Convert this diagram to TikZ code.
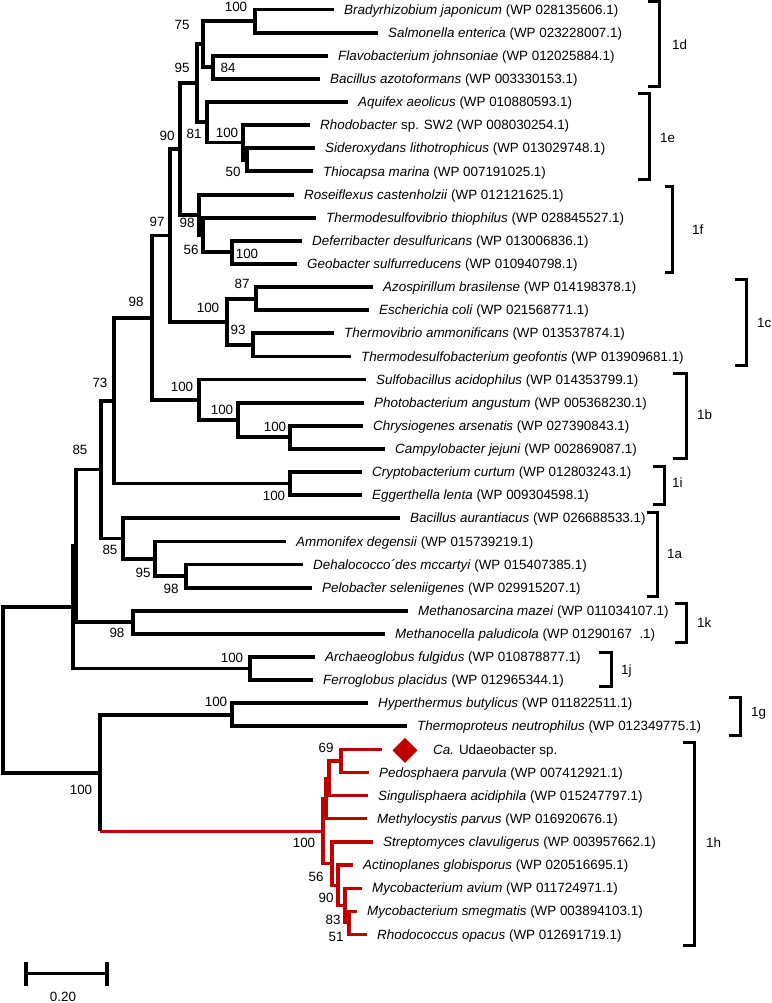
\documentclass[tikz,border=0pt]{standalone}
\usepackage{fontspec}
\setmainfont{Liberation Sans}
\usetikzlibrary{shapes.geometric}
\definecolor{cladered}{RGB}{192,0,0}
\tikzset{
 br/.style={line width=3.8pt},
 rbr/.style={line width=3.2pt, draw=cladered},
 brk/.style={line width=3pt},
 lab/.style={anchor=base west, inner sep=0pt, xshift=10pt, yshift=-4.6pt, font=\fontsize{13.4}{15}\selectfont},
 bs/.style={inner sep=0pt, font=\fontsize{13.4}{15}\selectfont},
 cl/.style={anchor=base west, inner sep=0pt, yshift=-4.8pt, font=\fontsize{13.4}{15}\selectfont},
}
\newcommand\edge[3][br]{\draw[#1] (#2) |- (#3);}
\newcommand\leaf[4]{\coordinate (#1) at (#2,#3); \node[lab] (#1t) at (#1) {#4};}
\begin{document}
\begin{tikzpicture}[x=1pt,y=-1pt]
\useasboundingbox (0,0) rectangle (771,1003);
% ---------------- leaves
\leaf{l1}{334}{9.6}{\textit{Bradyrhizobium japonicum} (WP 028135606.1)}
\leaf{l2}{378}{32.7}{\textit{Salmonella enterica} (WP 023228007.1)}
\leaf{l3}{328}{55.8}{\textit{Flavobacterium johnsoniae} (WP 012025884.1)}
\leaf{l4}{320}{79.0}{\textit{Bacillus azotoformans} (WP 003330153.1)}
\leaf{l5}{348}{102.1}{\textit{Aquifex aeolicus} (WP 010880593.1)}
\leaf{l6}{310}{125.2}{\textit{Rhodobacter} sp. SW2 (WP 008030254.1)}
\leaf{l7}{315}{148.3}{\textit{Sideroxydans lithotrophicus} (WP 013029748.1)}
\leaf{l8}{313}{171.4}{\textit{Thiocapsa marina} (WP 007191025.1)}
\leaf{l9}{294}{194.6}{\textit{Roseiflexus castenholzii} (WP 012121625.1)}
\leaf{l10}{316}{217.7}{\textit{Thermodesulfovibrio thiophilus} (WP 028845527.1)}
\leaf{l11}{302}{240.8}{\textit{Deferribacter desulfuricans} (WP 013006836.1)}
\leaf{l12}{297}{263.9}{\textit{Geobacter sulfurreducens} (WP 010940798.1)}
\leaf{l13}{373}{287.0}{\textit{Azospirillum brasilense} (WP 014198378.1)}
\leaf{l14}{369}{310.2}{\textit{Escherichia coli} (WP 021568771.1)}
\leaf{l15}{334}{333.3}{\textit{Thermovibrio ammonificans} (WP 013537874.1)}
\leaf{l16}{351}{356.4}{\textit{Thermodesulfobacterium geofontis} (WP 013909681.1)}
\leaf{l17}{366}{379.5}{\textit{Sulfobacillus acidophilus} (WP 014353799.1)}
\leaf{l18}{364}{402.6}{\textit{Photobacterium angustum} (WP 005368230.1)}
\leaf{l19}{363}{425.8}{\textit{Chrysiogenes arsenatis} (WP 027390843.1)}
\leaf{l20}{385}{448.9}{\textit{Campylobacter jejuni} (WP 002869087.1)}
\leaf{l21}{362}{472.0}{\textit{Cryptobacterium curtum} (WP 012803243.1)}
\leaf{l22}{362}{495.1}{\textit{Eggerthella lenta} (WP 009304598.1)}
\leaf{l23}{400}{518.2}{\textit{Bacillus aurantiacus} (WP 026688533.1)}
\leaf{l24}{286}{541.4}{\textit{Ammonifex degensii} (WP 015739219.1)}
\leaf{l25}{303}{564.5}{\textit{Dehalococco´des mccartyi} (WP 015407385.1)}
\leaf{l26}{312}{587.6}{\textit{Pelobac\rlap{\kern-1.5pt´}ter seleniigenes} (WP 029915207.1)}
\leaf{l27}{408}{610.7}{\textit{Methanosarcina mazei} (WP 011034107.1)}
\leaf{l28}{385}{633.8}{\textit{Methanocella paludicola} (WP 01290167\phantom{0}.1)}
\leaf{l29}{315}{657.0}{\textit{Archaeoglobus fulgidus} (WP 010878877.1)}
\leaf{l30}{313}{680.1}{\textit{Ferroglobus placidus} (WP 012965344.1)}
\leaf{l31}{368}{703.2}{\textit{Hyperthermus butylicus} (WP 011822511.1)}
\leaf{l32}{407}{726.3}{\textit{Thermoproteus neutrophilus} (WP 012349775.1)}
\coordinate (l33) at (382,749.4);
\node[diamond, fill=cladered, inner sep=0pt, minimum width=25pt, minimum height=25pt] (dia) at (405,750.4) {};
\node[lab, xshift=0pt] (l33t) at (423,749.4) {\textit{Ca.} Udaeobacter sp.};
\leaf{l34}{369}{772.6}{\textit{Pedosphaera parvula} (WP 007412921.1)}
\leaf{l35}{368}{795.7}{\textit{Singulisphaera acidiphila} (WP 015247797.1)}
\leaf{l36}{367}{818.8}{\textit{Methylocystis parvus} (WP 016920676.1)}
\leaf{l37}{373}{841.9}{\textit{Streptomyces clavuligerus} (WP 003957662.1)}
\leaf{l38}{353}{865.0}{\textit{Actinoplanes globisporus} (WP 020516695.1)}
\leaf{l39}{362}{888.2}{\textit{Mycobacterium avium} (WP 011724971.1)}
\leaf{l40}{357}{911.3}{\textit{Mycobacterium smegmatis} (WP 003894103.1)}
\leaf{l41}{367}{934.4}{\textit{Rhodococcus opacus} (WP 012691719.1)}
% ---------------- internal nodes
\coordinate (na) at (255,21.15);
\coordinate (nb) at (213,67.4);
\coordinate (nc) at (203,44.3);
\coordinate (nd) at (247,159.85);
\coordinate (ne) at (243,142.5);
\coordinate (nf) at (207,122.3);
\coordinate (ng) at (197,83.3);
\coordinate (nh) at (232,252.35);
\coordinate (ni) at (203,235.0);
\coordinate (nj) at (199,214.8);
\coordinate (nk) at (180,149.05);
\coordinate (nl) at (256,298.6);
\coordinate (nm) at (253,344.85);
\coordinate (nn) at (227,321.7);
\coordinate (no) at (170,235.4);
\coordinate (np) at (290,437.35);
\coordinate (nq) at (238,420.0);
\coordinate (nr) at (199,399.75);
\coordinate (ns) at (152,317.6);
\coordinate (nt) at (290,483.55);
\coordinate (nu) at (114,400.6);
\coordinate (nv) at (186,576.05);
\coordinate (nw) at (155,558.7);
\coordinate (nx) at (123,538.45);
\coordinate (ny) at (101,469.5);
\coordinate (nz) at (133,622.25);
\coordinate (mA) at (76,545.9);
\coordinate (mB) at (250,668.55);
\coordinate (mC) at (73,607.2);
\coordinate (mD) at (232,714.75);
\coordinate (rA) at (341,761);
\coordinate (rB) at (329,778.35);
\coordinate (rC) at (326,798.6);
\coordinate (rD) at (349,922.85);
\coordinate (rE) at (345,905.5);
\coordinate (rF) at (338,885.25);
\coordinate (rG) at (332,863.6);
\coordinate (rH) at (323,831.1);
\coordinate (mE) at (100,772.9);
\coordinate (root) at (3,690);
% ---------------- black edges
\edge{na}{l1}\edge{na}{l2}
\edge{nb}{l3}\edge{nb}{l4}
\edge{nc}{na}\edge{nc}{nb}
\edge{nd}{l7}\edge{nd}{l8}
\edge{ne}{l6}\edge{ne}{nd}
\edge{nf}{l5}\edge{nf}{ne}
\edge{ng}{nc}\edge{ng}{nf}
\edge{nh}{l11}\edge{nh}{l12}
\edge{ni}{l10}\edge{ni}{nh}
\edge{nj}{l9}\edge{nj}{ni}
\edge{nk}{ng}\edge{nk}{nj}
\edge{nl}{l13}\edge{nl}{l14}
\edge{nm}{l15}\edge{nm}{l16}
\edge{nn}{nl}\edge{nn}{nm}
\edge{no}{nk}\edge{no}{nn}
\edge{np}{l19}\edge{np}{l20}
\edge{nq}{l18}\edge{nq}{np}
\edge{nr}{l17}\edge{nr}{nq}
\edge{ns}{no}\edge{ns}{nr}
\edge{nt}{l21}\edge{nt}{l22}
\edge{nu}{ns}\edge{nu}{nt}
\edge{nv}{l25}\edge{nv}{l26}
\edge{nw}{l24}\edge{nw}{nv}
\edge{nx}{l23}\edge{nx}{nw}
\edge{ny}{nu}\edge{ny}{nx}
\edge{nz}{l27}\edge{nz}{l28}
\edge{mA}{ny}\edge{mA}{nz}
\edge{mB}{l29}\edge{mB}{l30}
\edge{mC}{mA}\edge{mC}{mB}
\edge{mD}{l31}\edge{mD}{l32}
\edge{mE}{mD}
\draw[br] (mE) -- (mE |- rH);
\edge{root}{mC}\edge{root}{mE}
% ---------------- red clade
\draw[rbr] (mE |- rH) -- (rH);
\edge[rbr]{rA}{l33}\edge[rbr]{rA}{l34}
\edge[rbr]{rB}{rA}\edge[rbr]{rB}{l35}
\edge[rbr]{rC}{rB}\edge[rbr]{rC}{l36}
\edge[rbr]{rD}{l40}\edge[rbr]{rD}{l41}
\edge[rbr]{rE}{l39}\edge[rbr]{rE}{rD}
\edge[rbr]{rF}{l38}\edge[rbr]{rF}{rE}
\edge[rbr]{rG}{l37}\edge[rbr]{rG}{rF}
\edge[rbr]{rH}{rC}\edge[rbr]{rH}{rG}
% ---------------- bootstrap values
\node[bs] (b1) at (236,7) {100};
\node[bs] (b2) at (182,25) {75};
\node[bs] (b3) at (228,68) {84};
\node[bs] (b4) at (182,68) {95};
\node[bs] (b5) at (167,136) {90};
\node[bs] (b6) at (194,134) {81};
\node[bs] (b7) at (227,133) {100};
\node[bs] (b8) at (233,172) {50};
\node[bs] (b9) at (157,222) {97};
\node[bs] (b10) at (187,223) {98};
\node[bs] (b11) at (191,250) {56};
\node[bs] (b12) at (247,254) {100};
\node[bs] (b13) at (242,284) {87};
\node[bs] (b14) at (208,308) {100};
\node[bs] (b15) at (238,330) {93};
\node[bs] (b16) at (136,302) {98};
\node[bs] (b17) at (100,383) {73};
\node[bs] (b18) at (182,387) {100};
\node[bs] (b19) at (222,410) {100};
\node[bs] (b20) at (275,427) {100};
\node[bs] (b21) at (80,450) {85};
\node[bs] (b22) at (274,496) {100};
\node[bs] (b23) at (110,550) {85};
\node[bs] (b24) at (143,573) {95};
\node[bs] (b25) at (171,589) {98};
\node[bs] (b26) at (117,633) {98};
\node[bs] (b27) at (232,658) {100};
\node[bs] (b28) at (216,702) {100};
\node[bs] (b29) at (81,790) {100};
\node[bs] (b30) at (326,748) {69};
\node[bs] (b31) at (304,843) {100};
\node[bs] (b32) at (316,877) {56};
\node[bs] (b33) at (326,898) {90};
\node[bs] (b34) at (333,920) {83};
\node[bs] (b35) at (336,937) {51};
% ---------------- clade brackets
\draw[brk] (648,1.5) -- (659,1.5) -- (659,87) -- (648,87);
\node[cl] (c1d) at (672,45) {1d};
\draw[brk] (638,94) -- (649,94) -- (649,180) -- (638,180);
\node[cl] (c1e) at (660,138) {1e};
\draw[brk] (665,187) -- (672,187) -- (672,272) -- (665,272);
\node[cl] (c1f) at (692,230) {1f};
\draw[brk] (735,279) -- (746,279) -- (746,365) -- (735,365);
\node[cl] (c1c) at (757,323) {1c};
\draw[brk] (673,373) -- (686,373) -- (686,458) -- (673,458);
\node[cl] (c1b) at (697,415) {1b};
\draw[brk] (653,466) -- (664,466) -- (664,504) -- (653,504);
\node[cl] (c1i) at (672,483) {1i};
\draw[brk] (647,512) -- (657,512) -- (657,596) -- (647,596);
\node[cl] (c1a) at (667,554) {1a};
\draw[brk] (675,603) -- (686,603) -- (686,642) -- (675,642);
\node[cl] (c1k) at (697,623) {1k};
\draw[brk] (599,652) -- (611,652) -- (611,686) -- (599,686);
\node[cl] (c1j) at (621,670) {1j};
\draw[brk] (729,697) -- (740,697) -- (740,735) -- (729,735);
\node[cl] (c1g) at (751,712) {1g};
\draw[brk] (683,742) -- (694,742) -- (694,945) -- (683,945);
\node[cl] (c1h) at (706,843) {1h};
% ---------------- scale bar
\coordinate (s1) at (26,973.5);
\coordinate (s2) at (107,973.5);
\draw[br] (s1) -- (s2);
\draw[br] ([yshift=12pt]s1) -- ([yshift=-12pt]s1);
\draw[br] ([yshift=12pt]s2) -- ([yshift=-12pt]s2);
\node[bs] (sl) at (63,997) {0.20};
\end{tikzpicture}
\end{document}
